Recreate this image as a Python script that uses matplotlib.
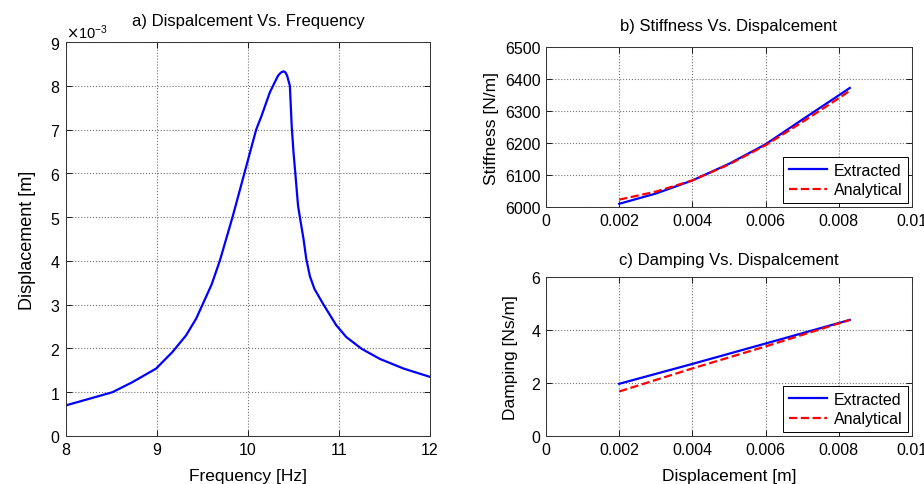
# Frequency response + identified stiffness/damping vs displacement (MATLAB-style figure).
import numpy as np
import matplotlib; matplotlib.use("Agg"); import matplotlib.pyplot as plt
from matplotlib.ticker import ScalarFormatter

plt.rcParams['font.family'] = ['Liberation Sans', 'DejaVu Sans']

# a) displacement vs frequency (displacement in mm, plotted in m)
freq = [8.0, 8.29, 8.51, 8.73, 8.99, 9.17, 9.32, 9.43, 9.50, 9.60, 9.69, 9.76, 9.83, 9.96,
        10.09, 10.15, 10.24, 10.28, 10.33, 10.36, 10.39, 10.41, 10.43, 10.46, 10.48, 10.50,
        10.52, 10.55, 10.57, 10.61, 10.64, 10.68, 10.73, 10.83, 10.97, 11.08, 11.25, 11.45,
        11.71, 12.0]
disp_mm = [0.70, 0.87, 1.00, 1.23, 1.54, 1.92, 2.30, 2.68, 3.00, 3.46, 4.0, 4.5, 5.0, 6.0,
           7.0, 7.32, 7.85, 8.02, 8.23, 8.30, 8.33, 8.31, 8.23, 8.0, 7.09, 6.48,
           6.0, 5.26, 5.0, 4.5, 4.05, 3.65, 3.36, 3.0, 2.53, 2.26, 1.99, 1.76,
           1.54, 1.35]

# b) stiffness vs displacement
k_x = [0.002, 0.003, 0.004, 0.005, 0.006, 0.007, 0.008, 0.0083]
k_extracted = [6010, 6042, 6083, 6135, 6196, 6273, 6349, 6372]
k_analytical = [6023, 6048, 6083, 6133, 6193, 6265, 6340, 6363]

# c) damping vs displacement
c_x = [0.002, 0.004, 0.006, 0.0083]
c_extracted = [1.97, 2.72, 3.49, 4.38]
c_analytical = [1.68, 2.55, 3.38, 4.38]

disp_ticks = [0, 0.002, 0.004, 0.006, 0.008, 0.01]
disp_ticklabels = ["0", "0.002", "0.004", "0.006", "0.008", "0.01"]

BLUE, RED = "#0000ff", "#ff0000"
W, H = 924, 485
TICK, LAB, TTL = 11.5, 12.5, 12
fig = plt.figure(figsize=(W / 100, H / 100), dpi=100)

def style(ax):
    ax.grid(True, ls=':', color='0.45', lw=0.8)
    ax.tick_params(direction='in', top=True, right=True, length=4, labelsize=TICK,
                   width=0.6, pad=4)
    for s in ax.spines.values():
        s.set_linewidth(0.7); s.set_color('0.2')

ax1 = fig.add_axes([66 / W, (H - 437) / H, 364 / W, 394 / H])
ax1.plot(freq, np.array(disp_mm) * 1e-3, color=BLUE, lw=1.6)
ax1.set_xlim(8, 12); ax1.set_ylim(0, 9e-3)
ax1.set_xticks([8, 9, 10, 11, 12])
ax1.set_yticks(np.arange(0, 10) * 1e-3)
fmt = ScalarFormatter(useMathText=True); fmt.set_powerlimits((-2, 2))
ax1.yaxis.set_major_formatter(fmt)
ax1.yaxis.get_offset_text().set_fontsize(10.5)
ax1.set_title("a) Dispalcement Vs. Frequency", fontsize=TTL, pad=12)
ax1.set_xlabel("Frequency [Hz]", fontsize=LAB, labelpad=8)
ax1.set_ylabel("Displacement [m]", fontsize=LAB + 0.5, labelpad=10)
style(ax1)

ax2 = fig.add_axes([546 / W, (H - 208) / H, 366 / W, 160 / H])
ax2.plot(k_x, k_extracted, color=BLUE, lw=1.6, label="Extracted")
ax2.plot(k_x, k_analytical, '--', color=RED, lw=1.6, label="Analytical")
ax2.set_xlim(0, 0.01); ax2.set_ylim(6000, 6500)
ax2.set_xticks(disp_ticks, disp_ticklabels)
ax2.set_yticks([6000, 6100, 6200, 6300, 6400, 6500])
ax2.set_title("b) Stiffness Vs. Dispalcement", fontsize=TTL, pad=12)
ax2.set_ylabel("Stiffness [N/m]", fontsize=LAB)
style(ax2)
leg = ax2.legend(loc='lower right', fontsize=TICK, fancybox=False, edgecolor='black',
                 framealpha=1, handlelength=2.4, borderaxespad=0.25, labelspacing=0.3,
                 handletextpad=0.4, borderpad=0.35)
leg.get_frame().set_linewidth(0.7)

ax3 = fig.add_axes([546 / W, (H - 437) / H, 366 / W, 159 / H])
ax3.plot(c_x, c_extracted, color=BLUE, lw=1.6, label="Extracted")
ax3.plot(c_x, c_analytical, '--', color=RED, lw=1.6, label="Analytical")
ax3.set_xlim(0, 0.01); ax3.set_ylim(0, 6)
ax3.set_xticks(disp_ticks, disp_ticklabels)
ax3.set_yticks([0, 2, 4, 6])
ax3.set_title("c) Damping Vs. Dispalcement", fontsize=TTL, pad=9)
ax3.set_xlabel("Displacement [m]", fontsize=LAB, labelpad=8)
ax3.set_ylabel("Damping [Ns/m]", fontsize=LAB, labelpad=10)
style(ax3)
leg = ax3.legend(loc='lower right', fontsize=TICK, fancybox=False, edgecolor='black',
                 framealpha=1, handlelength=2.4, borderaxespad=0.25, labelspacing=0.3,
                 handletextpad=0.4, borderpad=0.35)
leg.get_frame().set_linewidth(0.7)

fig.savefig("out.png", dpi=100)
